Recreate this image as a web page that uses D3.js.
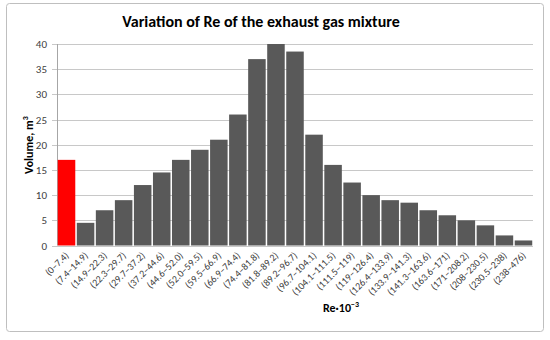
<!DOCTYPE html>
<html><head><meta charset="utf-8">
<script src="https://cdn.jsdelivr.net/npm/d3@7"></script>
<style>body{margin:0;background:#fff}</style></head>
<body><svg id="c" width="550" height="340"></svg>
<script>
const categories = ["(0–7.4)","(7.4–14.9)","(14.9–22.3)","(22.3–29.7)","(29.7–37.2)","(37.2–44.6)","(44.6–52.0)","(52.0–59.5)","(59.5–66.9)","(66.9–74.4)","(74.4–81.8)","(81.8–89.2)","(89.2–96.7)","(96.7–104.1)","(104.1–111.5)","(111.5–119)","(119–126.4)","(126.4–133.9)","(133.9–141.3)","(141.3–163.6)","(163.6–171)","(171–208.2)","(208–230.5)","(230.5–238)","(238–476)"];
const values = [17,4.5,7,9,12,14.5,17,19,21,26,37,40,38.5,22,16,12.5,10,9,8.5,7,6,5,4,2,1];
const yTicks = [0,5,10,15,20,25,30,35,40];
const title = "Variation of Re of the exhaust gas mixture";

const svg = d3.select("#c");
const font = "Carlito, 'Liberation Sans', 'Open Sans', sans-serif";
svg.append("rect").attr("x",6.5).attr("y",3.5).attr("width",537).attr("height",328)
  .attr("fill","#fff").attr("stroke","#bfbfbf").attr("rx",3);

const m = {l:57, r:533, t:44, b:245.5};
const x = d3.scaleBand().domain(categories).range([m.l, m.r]).paddingInner(0.08).paddingOuter(0.04);
const y = d3.scaleLinear().domain([0,40]).range([m.b, m.t]);

svg.append("g").selectAll("line").data(yTicks).join("line")
  .attr("x1",m.l-5).attr("x2",m.r).attr("y1",d=>Math.round(y(d))+0.5).attr("y2",d=>Math.round(y(d))+0.5)
  .attr("stroke","#c8c8c8").attr("stroke-width",1);
svg.append("line").attr("x1",m.l+0.5).attr("x2",m.l+0.5).attr("y1",m.t).attr("y2",m.b)
  .attr("stroke","#a6a6a6");

svg.append("g").selectAll("rect").data(values).join("rect")
  .attr("x",(d,i)=>x(categories[i])).attr("width",x.bandwidth())
  .attr("y",d=>y(d)).attr("height",d=>m.b-y(d))
  .attr("fill",(d,i)=>i===0?"#ff0000":"#595959");

svg.append("g").selectAll("text").data(yTicks).join("text")
  .attr("x",47).attr("y",d=>y(d)+4).attr("text-anchor","end")
  .attr("font-family",font).attr("font-size",11).attr("fill","#404040").text(d=>d);

svg.append("g").selectAll("text").data(categories).join("text")
  .attr("transform",d=>`translate(${x(d)+x.bandwidth()/2+3},${256}) rotate(-45)`)
  .attr("text-anchor","end").attr("font-family",font).attr("font-size",10).attr("fill","#404040").text(d=>d);

svg.append("text").attr("x",261).attr("y",27).attr("text-anchor","middle")
  .attr("font-family",font).attr("font-size",16).attr("font-weight","bold").attr("fill","#000").text(title);

const yl = svg.append("text").attr("transform","translate(33,145) rotate(-90)").attr("text-anchor","middle")
  .attr("font-family",font).attr("font-size",12).attr("font-weight","bold").attr("fill","#000");
yl.append("tspan").text("Volume, m");
yl.append("tspan").attr("dy",-5).attr("font-size",8).text("3");

const xl = svg.append("text").attr("x",323).attr("y",312)
  .attr("font-family",font).attr("font-size",12).attr("font-weight","bold").attr("fill","#000");
xl.append("tspan").text("Re·10");
xl.append("tspan").attr("dy",-5).attr("font-size",8).text("−3");
</script></body></html>
